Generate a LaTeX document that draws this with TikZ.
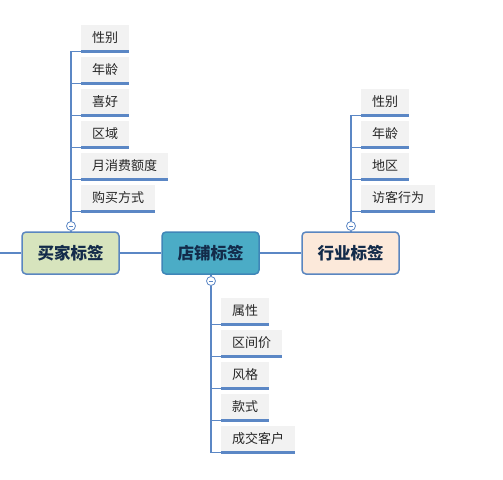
\documentclass[tikz,border=0pt]{standalone}
\usepackage{fontspec}
\newfontfamily\cjk{Noto Sans CJK SC}
\definecolor{lineblue}{HTML}{5B87C5}
\definecolor{boxborder}{HTML}{5A86C0}
\definecolor{storeborder}{HTML}{3F86B8}
\definecolor{buyerfill}{HTML}{D7E4BD}
\definecolor{storefill}{HTML}{4BACC6}
\definecolor{indfill}{HTML}{FCE9DA}
\definecolor{maintext}{HTML}{132B4A}
\definecolor{childfill}{HTML}{F2F2F2}
\begin{document}
\begin{tikzpicture}[x=1pt,y=-1pt,
  mainbox/.style={draw=boxborder,line width=1.5pt,rounded corners=4pt,minimum width=97pt,minimum height=42pt,inner sep=0pt,
    font=\cjk\bfseries\fontsize{16.5pt}{18pt}\selectfont,text=maintext},
  childbox/.style={fill=childfill,minimum height=25pt,inner xsep=11pt,inner ysep=0pt,anchor=south west,
    font=\cjk\fontsize{13pt}{15pt}\selectfont,text=black!85},
  uline/.style={draw=lineblue,line width=3pt},
  conn/.style={draw=lineblue,line width=1.2pt},
  collapse/.style={circle,draw=lineblue,fill=white,line width=0.8pt,minimum size=9pt,inner sep=0pt,
    path picture={\draw[lineblue,line width=0.8pt] ([xshift=-2.2pt]path picture bounding box.center) -- ([xshift=2.2pt]path picture bounding box.center);}}
]
\useasboundingbox (0,0) rectangle (503,479);
\fill[white] (0,0) rectangle (503,479);

% main nodes
\node[mainbox,fill=buyerfill] (buyer) at (70.5,253) {买家标签};
\node[mainbox,fill=storefill,draw=storeborder] (store) at (210.5,253) {店铺标签};
\node[mainbox,fill=indfill] (ind) at (350.5,253) {行业标签};
\coordinate (leftend) at (0,253);

\draw[conn] (leftend) -- (buyer.west);
\draw[conn] (buyer.east) -- (store.west);
\draw[conn] (store.east) -- (ind.west);

% collapse buttons
\node[collapse] (cb) at (71,226) {};
\node[collapse] (cs) at (211,281) {};
\node[collapse] (ci) at (351,226) {};
\draw[conn] (cb) -- (cb |- buyer.north);
\draw[conn] (cs) -- (cs |- store.south);
\draw[conn] (ci) -- (ci |- ind.north);

% buyer children
\node[childbox] (b1) at (81,50) {性别};
\node[childbox] (b2) at (81,82) {年龄};
\node[childbox] (b3) at (81,114) {喜好};
\node[childbox] (b4) at (81,146) {区域};
\node[childbox] (b5) at (81,178) {月消费额度};
\node[childbox] (b6) at (81,210) {购买方式};
\foreach \n in {b1,b2,b3,b4,b5,b6} {
  \draw[conn] (cb.north) |- ([yshift=-1.5pt]\n.south west);
  \draw[uline] ([yshift=-1.5pt]\n.south west) -- ([yshift=-1.5pt]\n.south east);
}

% industry children
\node[childbox] (i1) at (361,114) {性别};
\node[childbox] (i2) at (361,146) {年龄};
\node[childbox] (i3) at (361,178) {地区};
\node[childbox] (i4) at (361,210) {访客行为};
\foreach \n in {i1,i2,i3,i4} {
  \draw[conn] (ci.north) |- ([yshift=-1.5pt]\n.south west);
  \draw[uline] ([yshift=-1.5pt]\n.south west) -- ([yshift=-1.5pt]\n.south east);
}

% store children
\node[childbox] (s1) at (221,323) {属性};
\node[childbox] (s2) at (221,355) {区间价};
\node[childbox] (s3) at (221,387) {风格};
\node[childbox] (s4) at (221,419) {款式};
\node[childbox] (s5) at (221,451) {成交客户};
\foreach \n in {s1,s2,s3,s4,s5} {
  \draw[conn] (cs.south) |- ([yshift=-1.5pt]\n.south west);
  \draw[uline] ([yshift=-1.5pt]\n.south west) -- ([yshift=-1.5pt]\n.south east);
}
\end{tikzpicture}
\end{document}
